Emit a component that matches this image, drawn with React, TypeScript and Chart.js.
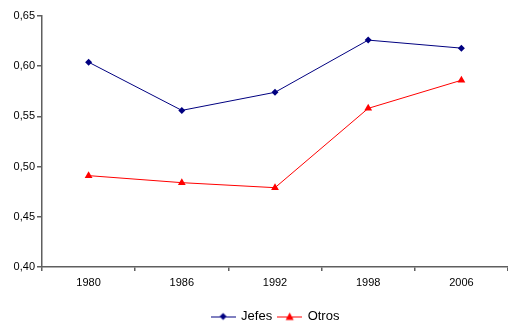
import React, { useEffect, useRef } from "react";
import { Chart, registerables } from "chart.js";

Chart.register(...registerables);

const years = ["1980", "1986", "1992", "1998", "2006"];
const jefes = [0.604, 0.556, 0.574, 0.626, 0.618];
const otros = [0.491, 0.484, 0.479, 0.558, 0.586];
const yTicks = [0.4, 0.45, 0.5, 0.55, 0.6, 0.65];

const FONT = "'Liberation Sans', Arial, sans-serif";
const AXIS = "#5f5f5f";

// Legend swatch: a short line with the series marker in the middle
function swatch(color: string, kind: "diamond" | "triangle"): HTMLCanvasElement {
  const c = document.createElement("canvas");
  c.width = 25;
  c.height = 10;
  const ctx = c.getContext("2d")!;
  ctx.strokeStyle = color;
  ctx.lineWidth = 1;
  ctx.beginPath();
  ctx.moveTo(0, 5.5);
  ctx.lineTo(25, 5.5);
  ctx.stroke();
  ctx.fillStyle = color;
  ctx.beginPath();
  if (kind === "diamond") {
    ctx.moveTo(12.5, 1.5);
    ctx.lineTo(16, 5);
    ctx.lineTo(12.5, 8.5);
    ctx.lineTo(9, 5);
  } else {
    ctx.moveTo(12.5, 1);
    ctx.lineTo(16.5, 8.5);
    ctx.lineTo(8.5, 8.5);
  }
  ctx.closePath();
  ctx.fill();
  return c;
}

// Centre the legend under the plot area and drop it a little lower
const legendPlacement = {
  id: "legendPlacement",
  afterLayout(chart: any) {
    const lg = chart.legend;
    if (!lg) return;
    lg.left = chart.chartArea.left + 1;
    lg.top += 10;
    lg.bottom += 10;
  },
};

export default function App() {
  const ref = useRef<HTMLCanvasElement | null>(null);

  useEffect(() => {
    document.body.style.margin = "0";
    const canvas = ref.current;
    if (!canvas) return;
    const chart = new Chart(canvas, {
      type: "line",
      data: {
        labels: years,
        datasets: [
          {
            label: "Jefes",
            data: jefes,
            borderColor: "#000080",
            backgroundColor: "#000080",
            borderWidth: 1,
            pointStyle: "rectRot",
            pointRadius: 3.5,
            pointBorderWidth: 0,
            tension: 0,
          },
          {
            label: "Otros",
            data: otros,
            borderColor: "#FF0000",
            backgroundColor: "#FF0000",
            borderWidth: 1,
            pointStyle: "triangle",
            pointRadius: 4.5,
            pointBorderWidth: 0,
            tension: 0,
          },
        ],
      },
      plugins: [legendPlacement],
      options: {
        animation: false,
        responsive: false,
        layout: { autoPadding: false, padding: { top: 16, right: 0, left: 0, bottom: 0 } },
        plugins: {
          tooltip: { enabled: false },
          legend: {
            position: "bottom",
            labels: {
              usePointStyle: true,
              pointStyleWidth: 23,
              padding: 6,
              color: "#000",
              font: { family: FONT, size: 13 },
              generateLabels: () => [
                {
                  text: "Jefes",
                  pointStyle: swatch("#000080", "diamond"),
                  fillStyle: "#000080",
                  strokeStyle: "#000080",
                  lineWidth: 0,
                  datasetIndex: 0,
                  hidden: false,
                },
                {
                  text: "Otros",
                  pointStyle: swatch("#FF0000", "triangle"),
                  fillStyle: "#FF0000",
                  strokeStyle: "#FF0000",
                  lineWidth: 0,
                  datasetIndex: 1,
                  hidden: false,
                },
              ],
            },
          },
        },
        scales: {
          x: {
            type: "category",
            offset: true,
            grid: {
              display: true,
              offset: true,
              drawOnChartArea: false,
              drawTicks: true,
              tickLength: 4,
              color: AXIS,
              lineWidth: 1.5,
            },
            border: { display: true, color: AXIS, width: 1.5 },
            ticks: {
              color: "#000",
              font: { family: FONT, size: 11 },
              padding: 5,
              maxRotation: 0,
            },
            afterFit: (scale: any) => {
              scale.height = 27;
              scale.paddingLeft = 0;
              scale.paddingRight = 0;
            },
          },
          y: {
            min: 0.4,
            max: 0.65,
            afterBuildTicks: (scale: any) => {
              scale.ticks = yTicks.map((v) => ({ value: v }));
            },
            grid: {
              display: true,
              drawOnChartArea: false,
              drawTicks: true,
              tickLength: 5,
              color: AXIS,
              lineWidth: 1.5,
            },
            border: { display: true, color: AXIS, width: 1.5 },
            ticks: {
              color: "#000",
              font: { family: FONT, size: 11 },
              padding: 2,
              callback: (v: any) => Number(v).toFixed(2).replace(".", ","),
            },
            afterFit: (scale: any) => {
              scale.width = 42;
            },
          },
        },
      },
    });
    return () => chart.destroy();
  }, []);

  return (
    <div style={{ width: 508, height: 323 }}>
      <canvas ref={ref} width={508} height={323} />
    </div>
  );
}
